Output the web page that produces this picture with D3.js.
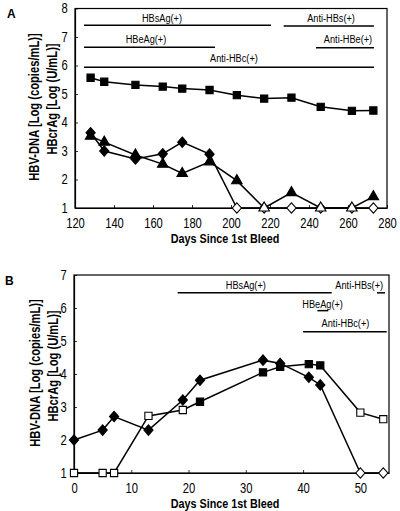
<!DOCTYPE html>
<html><head><meta charset="utf-8">
<script src="https://cdn.jsdelivr.net/npm/d3@7"></script>
<style>
html,body{margin:0;padding:0;background:#fff;}
svg{display:block;font-family:"Liberation Sans",Arial,sans-serif;}
</style></head>
<body>
<svg id="chart" width="400" height="511"></svg>
<script>
// ---------- Panel A data ----------
const daysA = [128, 135, 151, 165, 175, 189, 203, 217, 231, 246, 262, 273];
const hbvDnaA = [5.57, 5.43, 5.32, 5.26, 5.19, 5.14, 4.96, 4.84, 4.87, 4.55, 4.41, 4.42];
const hbcrAgA_diamond = [3.64, 3.0, 2.72, 2.9, 3.31, 2.89, 1, 1, 1, 1, 1, 1];
const diamondOpenA = [false, false, false, false, false, false, true, true, true, true, true, true];
const triangleA = [3.52, 3.31, 2.86, 2.54, 2.21, 2.62, 1.96, 1, 1.54, 1, 1, 1.40];
const triangleOpenA = [false, false, false, false, false, false, false, true, false, true, true, false];
const xTicksA = [120, 140, 160, 180, 200, 220, 240, 260, 280];
const yTicksA = [1, 2, 3, 4, 5, 6, 7, 8];
const markersA_labels = ["HBsAg(+)", "HBeAg(+)", "Anti-HBc(+)", "Anti-HBs(+)", "Anti-HBe(+)"];
const markersA_start = [124.6, 124.6, 124.6, 227, 243.6];
const markersA_end = [220.5, 191.8, 273.3, 273.3, 273.3];
const markersA_level = [7.41, 6.64, 5.94, 7.39, 6.62];
const markersA_labelX = [164.6, 156.4, 201.5, 251.3, 260];
const markersA_labelY = [7.65, 6.92, 6.25, 7.65, 6.92];

// ---------- Panel B data ----------
const daysB = [0, 5, 7, 13, 19, 22, 33, 36, 41, 43, 50, 54];
const hbvDnaB = [1, 1, 1, 2.73, 2.91, 3.16, 4.05, 4.22, 4.30, 4.26, 2.83, 2.63];
const squareOpenB = [true, true, true, true, true, false, false, false, false, false, true, true];
const hbcrAgB = [2.0, 2.30, 2.71, 2.30, 3.21, 3.81, 4.42, 4.32, 3.90, 3.67, 1, 1];
const diamondOpenB = [false, false, false, false, false, false, false, false, false, false, true, true];
const xTicksB = [0, 10, 20, 30, 40, 50];
const yTicksB = [1, 2, 3, 4, 5, 6, 7];
const markersB_labels = ["HBsAg(+)", "Anti-HBs(+)", "HBeAg(+)", "Anti-HBc(+)"];
const markersB_start = [18.1, 52.9, 42.5, 40];
const markersB_end = [45, 54.3, 44.4, 54.6];
const markersB_level = [6.46, 6.46, 5.92, 5.28];
const markersB_labelX = [30, 49.8, 43.4, 47.4];
const markersB_labelY = [6.70, 6.70, 6.12, 5.55];

const SX = 0.8; // horizontal compression to mimic the narrow typeface
const svg = d3.select("#chart");

const diamondSym = {
  draw(ctx, size) {
    const w = 4.6, h = 5.2;
    ctx.moveTo(0, -h); ctx.lineTo(w, 0); ctx.lineTo(0, h); ctx.lineTo(-w, 0); ctx.closePath();
  }
};

function narrowText(g, x, y, txt, opts) {
  const rot = opts.rotate ? ` rotate(${opts.rotate})` : "";
  return g.append("text")
    .attr("transform", `translate(${x},${y})${rot} scale(${SX},1)`)
    .attr("text-anchor", opts.anchor || "middle")
    .attr("dominant-baseline", opts.baseline || "auto")
    .attr("font-size", opts.size || 12)
    .attr("font-weight", opts.weight || "normal")
    .text(txt);
}

function drawPanel(cfg) {
  const g = svg.append("g");
  const x = d3.scaleLinear().domain(cfg.xDomain).range(cfg.xRange);
  const y = d3.scaleLinear().domain(cfg.yDomain).range(cfg.yRange);

  g.append("rect")
    .attr("x", cfg.xRange[0]).attr("y", cfg.yRange[1])
    .attr("width", cfg.xRange[1] - cfg.xRange[0])
    .attr("height", cfg.yRange[0] - cfg.yRange[1])
    .attr("fill", "none").attr("stroke", "#000").attr("stroke-width", 1.2);

  const xa = g.append("g").attr("transform", `translate(0,${cfg.yRange[0]})`)
    .call(d3.axisBottom(x).tickValues(cfg.xTicks).tickFormat(d3.format("d"))
      .tickSizeInner(-3).tickSizeOuter(0).tickPadding(7));
  const ya = g.append("g").attr("transform", `translate(${cfg.xRange[0]},0)`)
    .call(d3.axisLeft(y).tickValues(cfg.yTicks).tickFormat(d3.format("d"))
      .tickSizeInner(-3).tickSizeOuter(0).tickPadding(9));
  [xa, ya].forEach(a => {
    a.select(".domain").attr("stroke", "#000").attr("stroke-width", 1.2);
    a.selectAll(".tick line").attr("stroke", "#000").attr("stroke-width", 0.8);
    a.selectAll("text").attr("font-size", 14).attr("fill", "#000")
      .attr("font-family", '"Liberation Sans",Arial,sans-serif');
  });
  xa.selectAll("text").attr("dy", "0.95em").attr("transform", `scale(${SX},1)`);
  ya.selectAll("text").attr("transform", `scale(${SX},1)`);

  cfg.markLabels.forEach((lab, i) => {
    g.append("line")
      .attr("x1", x(cfg.markStart[i])).attr("x2", x(cfg.markEnd[i]))
      .attr("y1", y(cfg.markLevel[i])).attr("y2", y(cfg.markLevel[i]))
      .attr("stroke", "#000").attr("stroke-width", 1.5);
    narrowText(g, x(cfg.markLabelX[i]), y(cfg.markLabelY[i]), lab,
      {size: 11.5, baseline: "central"});
  });

  const line = d3.line().x(d => x(d[0])).y(d => y(d[1]));

  cfg.series.forEach(s => {
    const pts = s.xs.map((d, i) => [d, s.ys[i], s.open[i]]);
    g.append("path").attr("d", line(pts)).attr("fill", "none")
      .attr("stroke", "#000").attr("stroke-width", 1.5);
  });
  cfg.series.forEach(s => {
    const pts = s.xs.map((d, i) => [d, s.ys[i], s.open[i]]);
    g.selectAll(null).data(pts).enter().append("path")
      .attr("transform", d => `translate(${x(d[0])},${y(d[1])})`)
      .attr("d", d3.symbol().type(s.type).size(s.size)())
      .attr("fill", d => d[2] ? "#fff" : "#000")
      .attr("stroke", "#000").attr("stroke-width", 1.1);
  });

  narrowText(g, cfg.xlabX, cfg.yRange[0] + 35, "Days Since 1st Bleed", {size: 13.5, weight: "bold"});
  narrowText(g, cfg.ylab1X, cfg.ylab1Y, "HBV-DNA [Log (copies/mL)]",
    {size: 14, weight: "bold", rotate: -90, baseline: "central"});
  narrowText(g, cfg.ylab2X, cfg.ylab2Y, "HBcrAg [Log (U/mL)]",
    {size: 14, weight: "bold", rotate: -90, baseline: "central"});
  g.append("text")
    .attr("x", cfg.panelX).attr("y", cfg.panelY)
    .attr("font-size", 12).attr("font-weight", "bold")
    .text(cfg.panel);
}

drawPanel({
  panel: "A", panelX: 7, panelY: 18,
  xDomain: [120, 280], xRange: [75, 387],
  yDomain: [1, 8], yRange: [208, 8.5],
  xTicks: xTicksA, yTicks: yTicksA, xlabX: 225,
  markLabels: markersA_labels, markStart: markersA_start, markEnd: markersA_end,
  markLevel: markersA_level, markLabelX: markersA_labelX, markLabelY: markersA_labelY,
  ylab1X: 35, ylab1Y: 107, ylab2X: 53, ylab2Y: 99,
  series: [
    {xs: daysA, ys: hbvDnaA, open: hbvDnaA.map(() => false), type: d3.symbolSquare, size: 52},
    {xs: daysA, ys: hbcrAgA_diamond, open: diamondOpenA, type: diamondSym, size: 48},
    {xs: daysA, ys: triangleA, open: triangleOpenA, type: d3.symbolTriangle, size: 48}
  ]
});

drawPanel({
  panel: "B", panelX: 5, panelY: 285,
  xDomain: [0, 55], xRange: [74, 389],
  yDomain: [1, 7], yRange: [473, 275],
  xTicks: xTicksB, yTicks: yTicksB, xlabX: 225,
  markLabels: markersB_labels, markStart: markersB_start, markEnd: markersB_end,
  markLevel: markersB_level, markLabelX: markersB_labelX, markLabelY: markersB_labelY,
  ylab1X: 36, ylab1Y: 373, ylab2X: 54, ylab2Y: 366,
  series: [
    {xs: daysB, ys: hbcrAgB, open: diamondOpenB, type: diamondSym, size: 48},
    {xs: daysB, ys: hbvDnaB, open: squareOpenB, type: d3.symbolSquare, size: 52}
  ]
});
</script>
</body></html>
